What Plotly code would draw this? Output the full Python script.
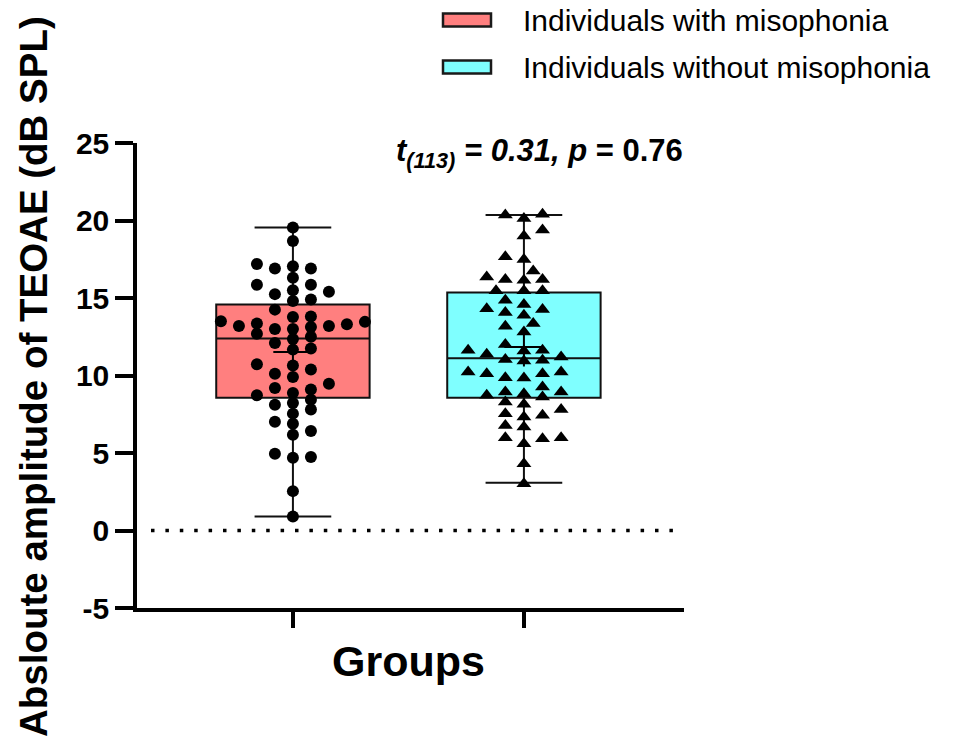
import math
import plotly.graph_objects as go

# ---------------- data ----------------
group_names = ["Individuals with misophonia", "Individuals without misophonia"]

with_miso = [19.55, 18.67, 17.05, 17.2, 16.9, 16.9, 16.3, 15.85, 15.85, 15.4,
             15.25, 15.5, 14.9, 14.8, 14.25, 13.46, 13.5, 13.8, 13.2, 13.78,
             13.35, 13.3, 13.2, 13.13, 13.0, 13.0, 12.7, 12.5, 12.36, 11.74,
             11.67, 12.1, 10.64, 10.38, 10.72, 10.12, 9.9, 9.47, 9.2, 9.09,
             8.72, 8.87, 8.44, 8.12, 8.22, 7.8, 7.54, 6.89, 7.02, 6.18,
             6.42, 4.74, 4.95, 4.7, 2.54, 0.9]

without_miso = [20.13, 20.35, 20.4, 19.38, 19.0, 17.66, 17.49, 16.75, 16.15, 16.2,
                16.36, 16.2, 15.46, 15.46, 15.46, 14.86, 14.3, 14.26, 14.58, 13.89,
                14.06, 13.35, 12.81, 13.18, 12.0, 11.58, 11.63, 11.03, 11.2, 10.98,
                11.37, 11.63, 10.94, 10.23, 10.23, 10.12, 10.12, 9.84, 9.26, 9.86,
                8.94, 8.94, 8.61, 8.72, 8.83, 8.29, 8.14, 7.8, 7.32, 6.67,
                7.54, 6.78, 7.43, 5.92, 5.6, 5.99, 5.99, 4.31, 3.02]

# box statistics: [with, without]
q1_vals = [8.57, 8.57]
median_vals = [12.38, 11.11]
q3_vals = [14.58, 15.36]
min_vals = [0.9, 3.08]
max_vals = [19.55, 20.35]
mean_vals = [11.52, 11.84]

y_ticks = [-5, 0, 5, 10, 15, 20, 25]
y_tick_labels = ["-5", "0", "5", "10", "15", "20", "25"]
stat_text = "<b><i>t</i><sub><i>(113)</i></sub><i> = 0.31, p</i> = 0.76</b>"

# ---------------- layout geometry ----------------
W, H = 954, 740
L, R, T, B = 137, 270, 143, 132
plot_w, plot_h = W - L - R, H - T - B
x_range = [-0.675, 1.693]
y_range = [-5, 25]
px_per_x = plot_w / (x_range[1] - x_range[0])
px_per_y = plot_h / (y_range[1] - y_range[0])


def px2paper(px, py):
    return (px - L) / plot_w, (H - B - py) / plot_h


def swarm(values, grid, col_px=18.0, row_px=9.5):
    """column-style beeswarm (GraphPad-like): offsets in x data units"""
    order = sorted(range(len(values)), key=lambda i: values[i])
    placed = []
    out = [0.0] * len(values)
    flip = 1
    for i in order:
        y = values[i] * px_per_y
        k = 0
        while True:
            found = None
            for sgn in ([0] if k == 0 else [flip, -flip]):
                c = sgn * k * grid
                ok = all(((c - xj) / col_px) ** 2 + ((y - yj) / row_px) ** 2 >= 1.0
                         for xj, yj in placed)
                if ok:
                    found = c
                    break
            if found is not None:
                break
            k += 1
        if found != 0:
            flip = -flip
        placed.append((found, y))
        out[i] = found / px_per_x
    return out


FONT = "Liberation Sans, Arial, Helvetica, sans-serif"
fills = ["#FF7F7F", "#7FFFFF"]
symbols = ["circle", "triangle-up"]
msizes = [12, 13]
grids = [18.0, 9.3]
groups = [with_miso, without_miso]

fig = go.Figure()

for g in range(2):
    fig.add_trace(go.Box(
        x=[g], q1=[q1_vals[g]], median=[median_vals[g]], q3=[q3_vals[g]],
        lowerfence=[min_vals[g]], upperfence=[max_vals[g]],
        width=0.664, whiskerwidth=0.5, fillcolor=fills[g],
        line=dict(color="#111111", width=2), boxpoints=False,
        name=group_names[g], showlegend=False, hoverinfo="skip"))

for g in range(2):
    offs = swarm(groups[g], grids[g])
    fig.add_trace(go.Scatter(
        x=[g + o for o in offs], y=groups[g], mode="markers",
        marker=dict(symbol=symbols[g], size=msizes[g], color="black",
                    line=dict(width=0)),
        showlegend=False, name=group_names[g]))

fig.add_trace(go.Scatter(
    x=[0, 1], y=mean_vals, mode="markers",
    marker=dict(symbol="cross-thin", size=28, line=dict(color="black", width=2)),
    showlegend=False, name="mean"))

# dotted zero line
fig.add_shape(type="line", xref="paper", yref="y",
              x0=px2paper(151, 0)[0], x1=px2paper(676, 0)[0], y0=0, y1=0,
              line=dict(color="black", width=3.5, dash="3.5px,10.9px"))

# manual legend
legend_rows = [(20, fills[0], group_names[0]), (67, fills[1], group_names[1])]
for cy, col, name in legend_rows:
    x0, y0 = px2paper(443, cy - 6.5)
    x1, y1 = px2paper(491, cy + 6.5)
    fig.add_shape(type="rect", xref="paper", yref="paper", x0=x0, x1=x1, y0=y0, y1=y1,
                  fillcolor=col, line=dict(color="#1a1a1a", width=2.5))
    tx, ty = px2paper(521, cy)
    fig.add_annotation(xref="paper", yref="paper", x=tx, y=ty, text=name,
                       showarrow=False, xanchor="left", yanchor="middle",
                       font=dict(family=FONT, size=30, color="black"))

ax, ay = px2paper(539, 153)
fig.add_annotation(xref="paper", yref="paper", x=ax, y=ay, text=stat_text,
                   showarrow=False, xanchor="center", yanchor="middle",
                   font=dict(family=FONT, size=31, color="black"))

tx, ty = px2paper(33, 377)
fig.add_annotation(xref="paper", yref="paper", x=tx, y=ty,
                   text="<b>Absloute amplitude of TEOAE (dB SPL)</b>", textangle=-90,
                   showarrow=False, xanchor="center", yanchor="middle",
                   font=dict(family=FONT, size=38.5, color="black"))

gx, gy = px2paper(408, 661)
fig.add_annotation(xref="paper", yref="paper", x=gx, y=gy, text="<b>Groups</b>",
                   showarrow=False, xanchor="center", yanchor="middle",
                   font=dict(family=FONT, size=43, color="black"))

fig.update_layout(
    width=W, height=H, margin=dict(l=L, r=R, t=T, b=B, autoexpand=False),
    paper_bgcolor="white", plot_bgcolor="white", showlegend=False,
    xaxis=dict(range=x_range, showgrid=False, zeroline=False, showline=True,
               linecolor="black", linewidth=3.5, ticks="outside", tickvals=[0, 1],
               showticklabels=False, ticklen=16, tickwidth=3.5, tickcolor="black"),
    yaxis=dict(range=y_range, showgrid=False, zeroline=False, showline=True,
               linecolor="black", linewidth=3.5, ticks="outside", tickvals=y_ticks,
               ticktext=y_tick_labels,
               ticklen=18, tickwidth=3.5, tickcolor="black",
               tickfont=dict(family=FONT, size=30, color="black", weight="bold")),
)

fig.write_html("out.html", config={"displayModeBar": False},
               post_script="document.body.style.margin='0px';"
                           "document.body.style.overflow='hidden';")
